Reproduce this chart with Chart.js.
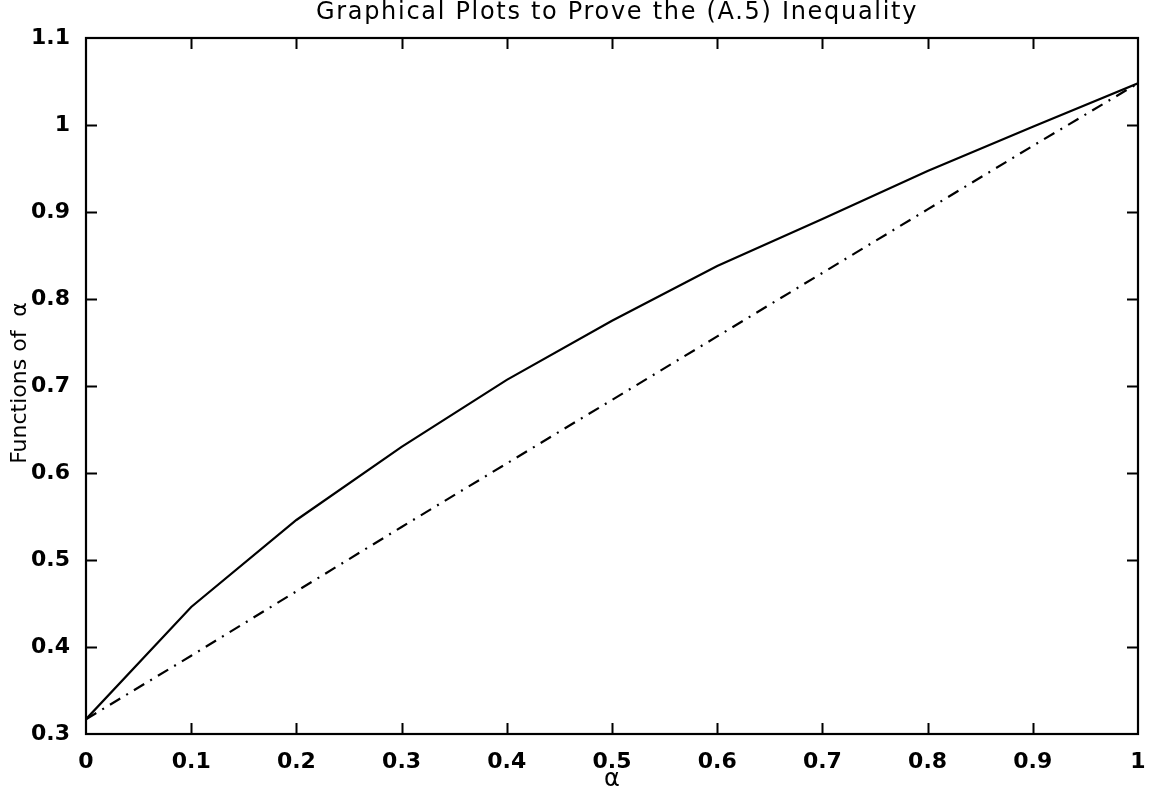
<!DOCTYPE html>
<html lang="en">
<head>
    <meta charset="UTF-8">
    <title>Graphical Plots to Prove the (A.5) Inequality</title>
    <script src="https://cdn.jsdelivr.net/npm/chart.js"></script>
    <style>
        html, body { margin: 0; padding: 0; background: #fff; }
        #chart { display: block; }
    </style>
</head>
<body>
<canvas id="chart" width="1166" height="796"></canvas>
<script>
    // values
    const alphaValues = [0, 0.1, 0.2, 0.3, 0.4, 0.5, 0.6, 0.7, 0.8, 0.9, 1.0];
    const upperCurve  = [0.317, 0.446, 0.546, 0.630, 0.707, 0.775, 0.838, 0.892, 0.947, 0.998, 1.048];
    const lowerCurve  = [0.317, 0.390, 0.464, 0.538, 0.611, 0.684, 0.757, 0.830, 0.903, 0.976, 1.048];
    const xTicks = [0, 0.1, 0.2, 0.3, 0.4, 0.5, 0.6, 0.7, 0.8, 0.9, 1];
    const yTicks = [0.3, 0.4, 0.5, 0.6, 0.7, 0.8, 0.9, 1, 1.1];

    const chartTitle = 'Graphical Plots to Prove the (A.5) Inequality';
    const xTitle = 'α';
    const yTitle = 'Functions of  α';

    const FONTE = '"DejaVu Sans", "Liberation Sans", Arial, sans-serif';

    function pontos(ys) {
        return alphaValues.map((x, i) => ({ x: x, y: ys[i] }));
    }

    function fmt(v) {
        return String(Number(v.toFixed(1)));
    }

    // box, inward ticks on all four sides, titles
    const moldura = {
        id: 'moldura',
        afterDraw(chart) {
            const ctx = chart.ctx;
            const { left, right, top, bottom } = chart.chartArea;
            const sx = chart.scales.x, sy = chart.scales.y;
            const tl = 11;
            ctx.save();
            ctx.strokeStyle = '#000';
            ctx.lineWidth = 2.2;
            ctx.strokeRect(left, top, right - left, bottom - top);
            ctx.lineWidth = 2;
            ctx.beginPath();
            xTicks.slice(1, -1).forEach(v => {
                const px = Math.round(sx.getPixelForValue(v)) + 0.5;
                ctx.moveTo(px, bottom); ctx.lineTo(px, bottom - tl);
                ctx.moveTo(px, top); ctx.lineTo(px, top + tl);
            });
            yTicks.slice(1, -1).forEach(v => {
                const py = Math.round(sy.getPixelForValue(v)) + 0.5;
                ctx.moveTo(left, py); ctx.lineTo(left + tl, py);
                ctx.moveTo(right, py); ctx.lineTo(right - tl, py);
            });
            ctx.stroke();

            ctx.fillStyle = '#000';
            ctx.textAlign = 'center';
            ctx.textBaseline = 'middle';

            ctx.letterSpacing = '1.7px';
            ctx.font = '24px ' + FONTE;
            ctx.fillText(chartTitle, (left + right) / 2 + 5, 13);

            ctx.letterSpacing = '0px';
            ctx.font = '24px ' + FONTE;
            ctx.fillText(xTitle, (left + right) / 2, 780);

            ctx.font = '22px ' + FONTE;
            ctx.translate(20, (top + bottom) / 2 - 3);
            ctx.rotate(-Math.PI / 2);
            ctx.fillText(yTitle, 0, 0);
            ctx.restore();
        }
    };

    new Chart(document.getElementById('chart'), {
        type: 'line',
        data: {
            datasets: [
                {
                    label: 'upper',
                    data: pontos(upperCurve),
                    borderColor: '#000',
                    borderWidth: 2.2,
                    pointRadius: 0,
                    tension: 0,
                    fill: false
                },
                {
                    label: 'lower',
                    data: pontos(lowerCurve),
                    borderColor: '#000',
                    borderWidth: 2.2,
                    borderDash: [12, 7, 2, 7],
                    pointRadius: 0,
                    tension: 0,
                    fill: false
                }
            ]
        },
        options: {
            responsive: false,
            animation: false,
            layout: { padding: { top: 38, right: 28, left: 0, bottom: 0 } },
            plugins: {
                legend: { display: false },
                title: { display: false },
                tooltip: { enabled: false }
            },
            scales: {
                x: {
                    type: 'linear',
                    min: 0, max: 1,
                    grid: { display: false },
                    border: { display: false },
                    afterBuildTicks: s => { s.ticks = xTicks.map(v => ({ value: v })); },
                    afterFit: s => { s.height = 62; },
                    ticks: {
                        color: '#000',
                        padding: 7,
                        maxRotation: 0,
                        autoSkip: false,
                        font: { family: FONTE, size: 22, weight: 'bold' },
                        callback: v => fmt(v)
                    }
                },
                y: {
                    type: 'linear',
                    min: 0.3, max: 1.1,
                    grid: { display: false },
                    border: { display: false },
                    afterBuildTicks: s => { s.ticks = yTicks.map(v => ({ value: v })); },
                    afterFit: s => { s.width = 86; },
                    ticks: {
                        color: '#000',
                        padding: 8,
                        autoSkip: false,
                        font: { family: FONTE, size: 22, weight: 'bold' },
                        callback: v => fmt(v)
                    }
                }
            }
        },
        plugins: [moldura]
    });
</script>
</body>
</html>
